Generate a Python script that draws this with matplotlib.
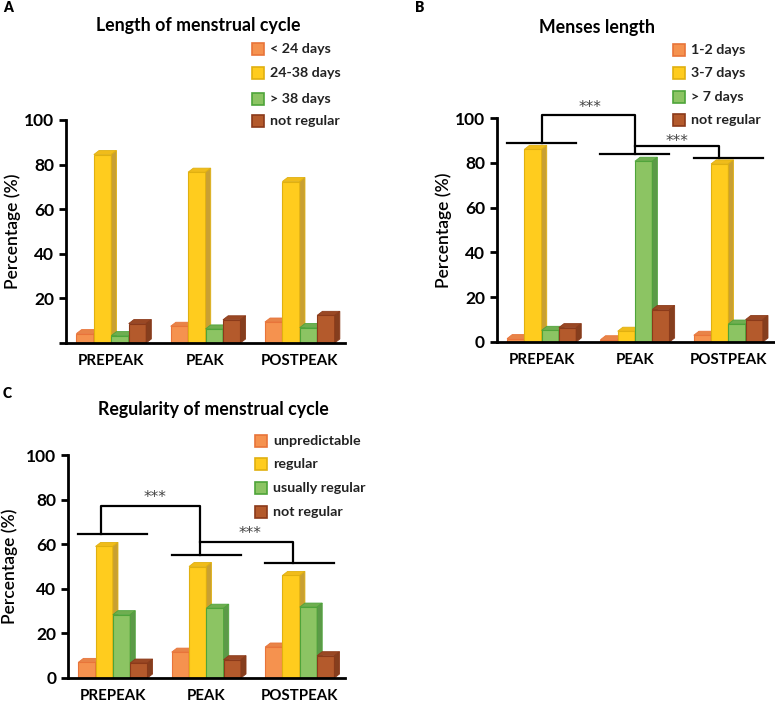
import numpy as np
import matplotlib.pyplot as plt
from matplotlib.patches import Polygon, Rectangle

plt.rcParams['font.family'] = ['Lato', 'DejaVu Sans']

groups = ["PREPEAK", "PEAK", "POSTPEAK"]

# panel A: length of menstrual cycle
labels_a = ["< 24 days", "24-38 days", "> 38 days", "not regular"]
vals_a = [[4.2, 7.5, 9.4],
          [84.5, 76.6, 72.4],
          [3.3, 6.3, 6.9],
          [8.7, 10.4, 12.4]]

# panel B: menses length
labels_b = ["1-2 days", "3-7 days", "> 7 days", "not regular"]
vals_b = [[1.5, 1.0, 3.0],
          [86.0, 4.8, 79.5],
          [5.2, 80.7, 8.0],
          [6.4, 14.5, 10.0]]

# panel C: regularity of menstrual cycle
labels_c = ["unpredictable", "regular", "usually regular", "not regular"]
vals_c = [[7.0, 11.6, 13.9],
          [59.0, 50.0, 46.0],
          [28.4, 31.3, 31.8],
          [6.7, 8.2, 10.0]]

# front, top, side, edge
colors = [("#F5924F", "#E88448", "#D97038", "#E8743A"),
          ("#FFCC1E", "#F0BC1A", "#C9A032", "#E0B010"),
          ("#8CC463", "#6FAE50", "#5C9A48", "#4EA43A"),
          ("#B45A2C", "#9A4824", "#853E1E", "#8B3A1A")]

W = 0.185      # bar width
DX = 0.055     # depth offset x
DY = 1.8       # depth offset y


def bar3d(ax, x, h, c, z):
    front, top, side, edge = c
    ax.bar(x, h, W, color=front, edgecolor=edge, linewidth=0.8, zorder=z)
    l, r = x - W / 2, x + W / 2
    ax.add_patch(Polygon([[l, h], [r, h], [r + DX, h + DY], [l + DX, h + DY]],
                         closed=True, facecolor=top, edgecolor=edge, lw=0.6, zorder=z))
    ax.add_patch(Polygon([[r, 0], [r + DX, DY], [r + DX, h + DY], [r, h]],
                         closed=True, facecolor=side, edgecolor=edge, lw=0.6, zorder=z))


def panel(rect, vals, title, title_xy, legend_labels, legend_x, legend_ys, letter_xy, ylab_x, show_zero):
    ax = fig.add_axes(rect)
    x = np.arange(len(groups))
    z = 2
    for g in range(len(groups)):
        for k in range(4):
            bar3d(ax, x[g] + (k - 1.5) * W, vals[k][g], colors[k], z)
            z += 1
    ax.set_xlim(-0.48, 2.48)
    ax.set_ylim(0, 100)
    ax.spines[["top", "right"]].set_visible(False)
    ax.spines["left"].set_linewidth(2)
    ax.spines["bottom"].set_linewidth(2)
    ax.spines["left"].set_zorder(40)
    ax.spines["bottom"].set_zorder(40)
    ax.set_yticks([0, 20, 40, 60, 80, 100])
    if not show_zero:
        ax.set_yticklabels(["", "20", "40", "60", "80", "100"])
    ax.set_xticks(x)
    ax.set_xticklabels(groups)
    ax.tick_params(axis="y", width=2, length=5, labelsize=12.5)
    ax.tick_params(axis="x", length=0, labelsize=10.8, pad=8)
    for t in ax.get_xticklabels() + ax.get_yticklabels():
        t.set_fontweight("bold")
    ax.set_ylabel("Percentage (%)", fontsize=12.5, fontweight="semibold")
    ax.yaxis.set_label_coords(ylab_x, 0.5)
    fig.text(title_xy[0] / 775, 1 - title_xy[1] / 705, title, ha="center", va="center",
             fontsize=12.8, fontweight="bold")
    fig.text(letter_xy[0] / 775, 1 - letter_xy[1] / 705, letter_xy[2], ha="left", va="center",
             fontsize=10, fontweight="heavy")
    for k, (lab, ly) in enumerate(zip(legend_labels, legend_ys)):
        fig.add_artist(Rectangle(((legend_x - 6) / 775, 1 - (ly + 6) / 705), 12 / 775, 12 / 705,
                                 facecolor=colors[k][0], edgecolor=colors[k][3], lw=1.2,
                                 transform=fig.transFigure))
        fig.text((legend_x + 12) / 775, 1 - ly / 705, lab, ha="left", va="center",
                 fontsize=10.3, fontweight="bold", color="#222222")
    return ax


fig = plt.figure(figsize=(7.75, 7.05), dpi=100)

ax_a = panel([0.0852, 0.5135, 0.360, 0.3163], vals_a, "Length of menstrual cycle", (198, 26),
             labels_a, 258, [49, 73, 99, 121], (3, 8, "A"), -0.16, False)

ax_b = panel([0.641, 0.5149, 0.359, 0.3177], vals_b, "Menses length", (597, 27),
             labels_b, 679, [50, 73, 97, 120], (415, 8, "B"), -0.16, True)
ax_b.set_xlim(-0.48, 2.5)

ax_c = panel([0.0877, 0.0383, 0.357, 0.3163], vals_c, "Regularity of menstrual cycle", (213, 410),
             labels_c, 261, [441, 464, 488, 512], (3, 393, "C"), -0.18, True)

# significance brackets, panel B
kw = dict(color="black", lw=1.6, clip_on=False, zorder=50)
hb = 0.37
ax_b.plot([0 - hb, 0 + hb], [89, 89], **kw)
ax_b.plot([1 - hb, 1 + hb], [84, 84], **kw)
ax_b.plot([2 - hb, 2 + hb], [82, 82], **kw)
ax_b.plot([0, 0, 1, 1], [89, 101.5, 101.5, 84], **kw)
ax_b.plot([1, 1.9, 1.9], [87.3, 87.3, 82], **kw)
ax_b.text(0.52, 104.5, "***", ha="center", va="center", fontsize=11, color="#444444",
          family="DejaVu Sans", clip_on=False)
ax_b.text(1.45, 89.5, "***", ha="center", va="center", fontsize=11, color="#444444",
          family="DejaVu Sans", clip_on=False)

# significance brackets, panel C
ax_c.plot([0 - hb, 0 + hb], [64.6, 64.6], **kw)
ax_c.plot([1 - hb, 1 + hb], [55.2, 55.2], **kw)
ax_c.plot([2 - hb, 2 + hb], [51.5, 51.5], **kw)
ax_c.plot([-0.13, -0.13, 0.93, 0.93], [64.6, 77.3, 77.3, 55.2], **kw)
ax_c.plot([0.93, 1.93, 1.93], [61.2, 61.2, 51.5], **kw)
ax_c.text(0.45, 81, "***", ha="center", va="center", fontsize=11, color="#444444",
          family="DejaVu Sans")
ax_c.text(1.47, 65, "***", ha="center", va="center", fontsize=11, color="#444444",
          family="DejaVu Sans")

fig.savefig("out.png", dpi=100)
